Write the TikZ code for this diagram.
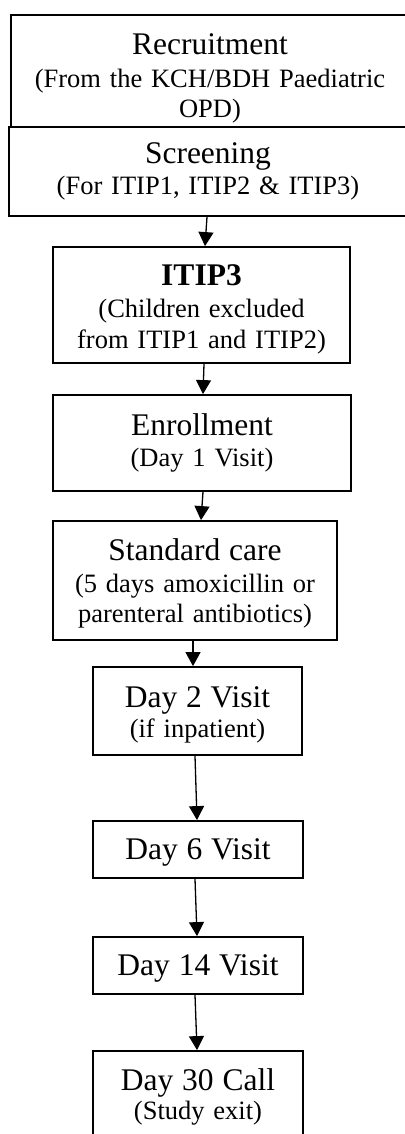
\documentclass[tikz,border=0pt]{standalone}
\usepackage{fontspec}
\setmainfont{Liberation Serif}
\usetikzlibrary{arrows.meta}

\newcommand\stagefont{\fontsize{31.5}{33}\selectfont}
\newcommand\notefont{\fontsize{26.5}{30.5}\selectfont}

\begin{document}
\begin{tikzpicture}[x=1pt, y=-1pt,
    stage/.style = {draw, line width=1.8pt, inner sep=0pt, align=center, font=\notefont},
    flow/.style = {line width=1.3pt, -{Triangle[length=14pt,width=15pt]}}]
\useasboundingbox (0,0) rectangle (404,1134);
\node[stage, minimum width=398pt, minimum height=112pt, text width=390pt] (recruit) at (210,71)
    {\rule{0pt}{36pt}{\stagefont Recruitment}\\[2.5pt] (From the KCH/BDH Paediatric\\ OPD)};
\node[stage, minimum width=398pt, minimum height=89pt, text width=390pt] (screen) at (208,171.5)
    {{\stagefont Screening}\\ (For ITIP1, ITIP2 \& ITIP3)};
\node[stage, minimum width=297pt, minimum height=116pt, text width=290pt] (itip) at (201.5,305)
    {\rule{0pt}{29.5pt}{\stagefont\bfseries ITIP3}\\[1.5pt] (Children excluded\\ from ITIP1 and ITIP2)};
\node[stage, minimum width=298pt, minimum height=96pt, text width=290pt] (enrol) at (202,443)
    {{\stagefont Enrollment}\\ (Day 1 Visit)};
\node[stage, minimum width=284pt, minimum height=119pt, text width=280pt] (care) at (195,580.5)
    {\rule{0pt}{27.5pt}{\stagefont Standard care}\\[1.5pt] (5 days amoxicillin or\\ parenteral antibiotics)};
\node[stage, minimum width=209pt, minimum height=88pt, text width=200pt] (day2) at (197.5,711)
    {\rule{0pt}{28.5pt}{\stagefont Day 2 Visit}\\ (if inpatient)};
\node[stage, minimum width=210pt, minimum height=57pt, text width=200pt] (day6) at (198,849.5)
    {\stagefont\rule{0pt}{27pt}Day 6 Visit};
\node[stage, minimum width=210pt, minimum height=57pt, text width=200pt] (day14) at (198,965.5)
    {\stagefont\rule{0pt}{27pt}Day 14 Visit};
\node[stage, minimum width=210pt, minimum height=92pt, text width=200pt] (day30) at (198,1097)
    {{\stagefont Day 30 Call}\\[-1.5pt] (Study exit)};

\draw[flow] ([xshift=-1pt]screen.south) -- ([xshift=3.5pt]itip.north);
\draw[flow] ([xshift=2.5pt]itip.south) -- ([xshift=1pt]enrol.north);
\draw[flow] ([xshift=1pt]enrol.south) -- ([xshift=6pt]care.north);
\draw[flow] ([xshift=-2pt]care.south) -- ([xshift=-4.5pt]day2.north);
\draw[flow] ([xshift=-2.5pt]day2.south) -- ([xshift=-1pt]day6.north);
\draw[flow] ([xshift=-3pt]day6.south) -- ([xshift=-1pt]day14.north);
\draw[flow] ([xshift=-3pt]day14.south) -- ([xshift=-1pt]day30.north);
\end{tikzpicture}
\end{document}
